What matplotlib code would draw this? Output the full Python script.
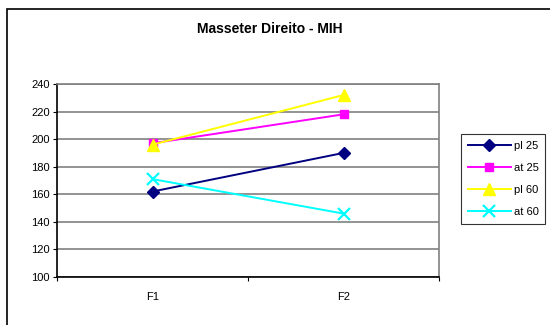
import matplotlib
matplotlib.use("Agg")
import matplotlib.pyplot as plt
from matplotlib.patches import Rectangle

categories = ["F1", "F2"]
pl25 = [162, 190]
at25 = [197, 218]
pl60 = [196, 232]
at60 = [171, 146]
series_names = ["pl 25", "at 25", "pl 60", "at 60"]
y_ticks = [100, 120, 140, 160, 180, 200, 220, 240]

plt.rcParams['font.family'] = ['Liberation Sans', 'DejaVu Sans']

W, H = 550, 325
fig = plt.figure(figsize=(W / 100, H / 100), dpi=100)
fig.patch.set_facecolor("white")

# outer chart border
fig.patches.append(Rectangle((7 / W, -0.1), 1.2, 1 - 8.5 / H + 0.1,
                             transform=fig.transFigure, fill=False,
                             edgecolor="black", linewidth=1.2))

ax = fig.add_axes([57 / W, (H - 277) / H, (439 - 57) / W, (277 - 84) / H])
xs = [0.5 + i for i in range(len(categories))]

styles = [
    dict(color="#000080", marker="D", markersize=6),
    dict(color="#FF00FF", marker="s", markersize=6),
    dict(color="#FFFF00", marker="^", markersize=8),
    dict(color="#00FFFF", marker="x", markersize=8, markeredgewidth=1.6),
]
for name, vals, st in zip(series_names, [pl25, at25, pl60, at60], styles):
    ax.plot(xs, vals, label=name, linewidth=1.4, clip_on=False, **st)

ax.set_xlim(0, len(categories))
ax.set_ylim(100, 240)
ax.set_yticks(y_ticks)
ax.set_yticklabels([str(v) for v in y_ticks], fontsize=8)
ax.set_xticks([0, 1, 2])
ax.set_xticklabels(["", "", ""])
ax.set_xticks(xs, minor=True)
ax.set_xticklabels(categories, minor=True, fontsize=8)
ax.tick_params(axis="x", which="minor", length=0, pad=11)
ax.tick_params(axis="x", which="major", length=3, direction="out", color="black")
ax.tick_params(axis="y", length=3, direction="out", pad=2)
ax.yaxis.grid(True, color="#808080", linewidth=1.2)
ax.set_axisbelow(True)
for s in ["top", "right"]:
    ax.spines[s].set_color("#808080")
    ax.spines[s].set_linewidth(1.2)
for s in ["left", "bottom"]:
    ax.spines[s].set_color("black")
    ax.spines[s].set_linewidth(1.2)

fig.text(270 / W, 1 - 29 / H, "Masseter Direito - MIH", ha="center", va="center",
         fontsize=10, fontweight="bold")

leg = fig.legend(loc="upper left", bbox_to_anchor=(461 / W, 1 - 134 / H),
                 fontsize=8, frameon=True, fancybox=False, handlelength=3.9,
                 borderpad=0.6, labelspacing=1.1, handletextpad=0.25,
                 borderaxespad=0)
leg.get_frame().set_edgecolor("black")
leg.get_frame().set_linewidth(0.8)

fig.savefig("out.png", dpi=100)
